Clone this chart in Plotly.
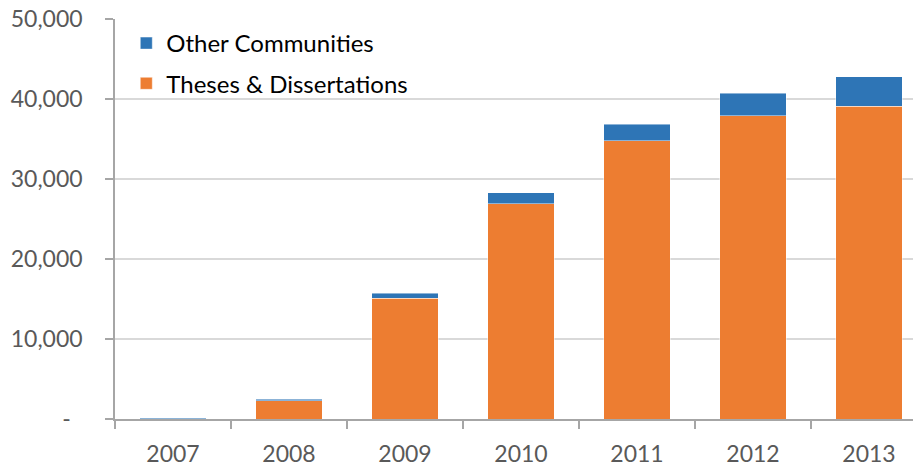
import plotly.graph_objects as go

years = ["2007", "2008", "2009", "2010", "2011", "2012", "2013"]
theses = [60, 2300, 15100, 26900, 34800, 37900, 39100]
other = [30, 200, 600, 1400, 2050, 2800, 3700]
y_tickvals = [0, 10000, 20000, 30000, 40000, 50000]
y_ticktext = ["-\u00a0\u00a0", "10,000", "20,000", "30,000", "40,000", "50,000"]

font_family = "Lato"

fig = go.Figure()
fig.add_trace(go.Bar(
    x=years, y=theses, name="Theses & Dissertations", legendgroup="t", legendrank=2,
    marker=dict(color="#ED7D31", line=dict(color="rgba(255,255,255,0.45)", width=1)),
))
fig.add_trace(go.Bar(
    x=years, y=other, name="Other Communities", legendgroup="o", legendrank=1,
    marker=dict(color="#2E75B6", line=dict(color="rgba(255,255,255,0.45)", width=1)),
))

fig.update_layout(
    width=913, height=456,
    barmode="stack",
    bargap=0.43,
    plot_bgcolor="white", paper_bgcolor="white",
    margin=dict(l=107, r=0, t=11, b=45, autoexpand=False),
    font=dict(family=font_family, size=23, color="#595959"),
    showlegend=True,
    legend=dict(
        x=0.014, y=0.995, xanchor="left", yanchor="top",
        traceorder="grouped",
        font=dict(family=font_family, size=24, color="#000000"),
        bgcolor="rgba(0,0,0,0)",
        itemwidth=30,
        tracegroupgap=6,
    ),
    xaxis=dict(
        type="category",
        range=[-0.5, 6.448],
        automargin=False,
        showline=True, linecolor="#A6A6A6", linewidth=1.5,
        ticks="outside", tickson="boundaries", ticklen=8, tickcolor="#A6A6A6", tickwidth=1.5,
        ticklabelstandoff=14,
        ticklabeloverflow="allow",
        showgrid=False,
        tickfont=dict(family=font_family, size=23, color="#595959"),
    ),
    yaxis=dict(
        range=[0, 50000],
        automargin=False,
        tickvals=y_tickvals, ticktext=y_ticktext,
        showgrid=True, gridcolor="#D9D9D9", gridwidth=1.5,
        showline=True, linecolor="#A6A6A6", linewidth=1.5,
        ticks="outside", ticklen=8, tickcolor="#A6A6A6", tickwidth=1.5,
        ticklabelstandoff=18,
        ticklabeloverflow="allow",
        zeroline=False,
        tickfont=dict(family=font_family, size=23, color="#595959"),
    ),
)

fig.write_html("out.html")
